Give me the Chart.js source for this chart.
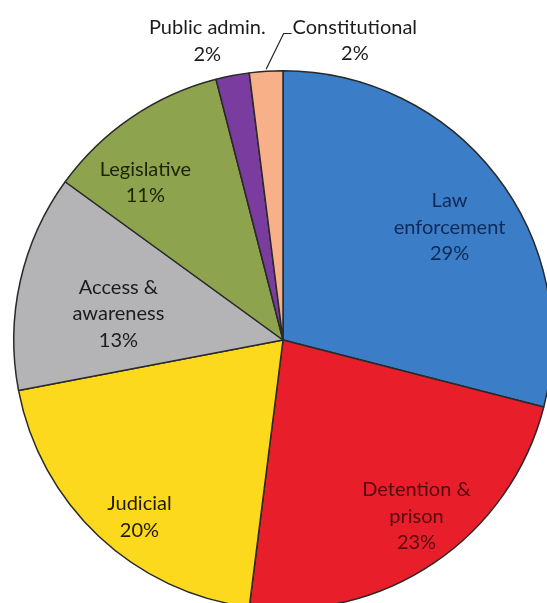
<!DOCTYPE html>
<html>
<head>
<meta charset="utf-8">
<title>Programme areas</title>
<script src="https://cdn.jsdelivr.net/npm/chart.js@4"></script>
<style>
  html, body { margin: 0; padding: 0; background: #fff; overflow: hidden; }
  #wrap { position: absolute; left: 0; top: 0; width: 566px; height: 680px; }
</style>
</head>
<body>
<div id="wrap"><canvas id="pieChart"></canvas></div>
<script>
// ===== DATA =====

const categories = ["Law enforcement", "Detention & prison", "Judicial", "Access & awareness", "Legislative", "Public admin.", "Constitutional"];
const shares = [29, 23, 20, 13, 11, 2, 2];
const labelLines = [["Law", "enforcement"], ["Detention &", "prison"], ["Judicial"], ["Access &", "awareness"], ["Legislative"], ["Public admin."], ["Constitutional"]];

// ===== STYLE =====

const sliceColors = ["#3b7dc6", "#e81e2b", "#fcd91c", "#b4b4b6", "#8ea34e", "#7a3c9e", "#f7b088"];
const textColors = ["#0e2a58", "#560a10", "#221a00", "#1c1c1c", "#1a240a", "#1c1c1c", "#1c1c1c"];
// label placement: distance from the centre (fraction of radius) and a nudge off the slice middle (degrees)
const labelRadius = [0.747, 0.822, 0.847, 0.619, 0.776, 1.146, 1.143];
const labelTurn = [3.7, -2.9, -4.2, -3.5, -7, -3.4, 17.1];
const FONT = "20px Lato";
const LINE_H = 26.5;

// ===== LABEL PLUGIN =====

const sliceLabels = {
    id: "sliceLabels",
    afterDatasetsDraw(chart) {
        const ctx = chart.ctx;
        const arcs = chart.getDatasetMeta(0).data;
        ctx.save();
        ctx.font = FONT;
        ctx.textAlign = "center";
        ctx.textBaseline = "middle";

        arcs.forEach((arc, i) => {
            const { x, y, startAngle, endAngle, outerRadius } = arc.getProps(["x", "y", "startAngle", "endAngle", "outerRadius"], true);
            const mid = (startAngle + endAngle) / 2;
            const a = mid + labelTurn[i] * Math.PI / 180;
            const lx = x + Math.cos(a) * outerRadius * labelRadius[i];
            const ly = y + Math.sin(a) * outerRadius * labelRadius[i];
            const lines = labelLines[i].concat([shares[i] + "%"]);
            const top = ly - (lines.length - 1) * LINE_H / 2;

            // leader line for the outside label that sits away from its slice
            if (i === 6) {
                const ex = x + Math.cos(mid) * outerRadius;
                const ey = y + Math.sin(mid) * outerRadius;
                const left = lx - ctx.measureText(lines[0]).width / 2;
                ctx.strokeStyle = "#222";
                ctx.lineWidth = 1.2;
                ctx.beginPath();
                ctx.moveTo(ex, ey - 2);
                ctx.lineTo(left - 9, top + 6);
                ctx.lineTo(left - 1, top + 6);
                ctx.stroke();
            }

            ctx.fillStyle = textColors[i];
            lines.forEach((t, k) => ctx.fillText(t, lx, top + k * LINE_H));
        });
        ctx.restore();
    }
};

// ===== PIE =====

new Chart(document.getElementById("pieChart"), {
    type: "pie",
    data: {
        labels: categories,
        datasets: [{
            data: shares,
            backgroundColor: sliceColors,
            borderColor: "#2a2a2a",
            borderWidth: 1.5
        }]
    },
    options: {
        responsive: true,
        maintainAspectRatio: false,
        animation: false,
        layout: { padding: { left: 13, right: 13, top: 70, bottom: 70 } },
        plugins: {
            legend: { display: false },
            tooltip: { enabled: false }
        }
    },
    plugins: [sliceLabels]
});
</script>
</body>
</html>
